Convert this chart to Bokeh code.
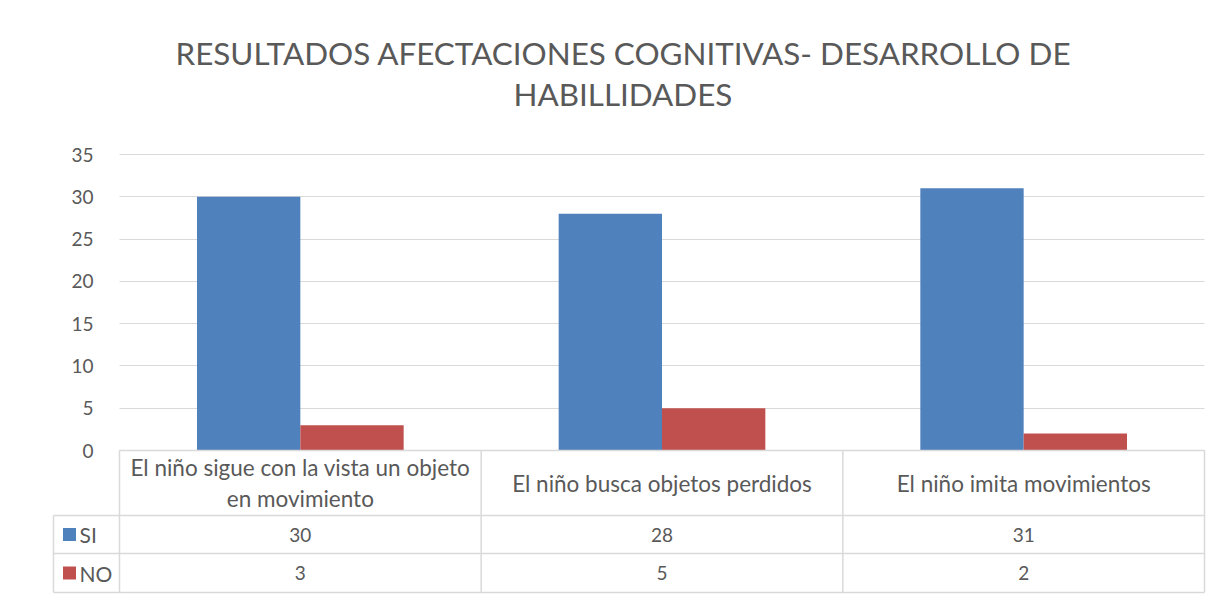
from bokeh.plotting import figure
from bokeh.models import Range1d, LinearAxis, FixedTicker, Grid, Title
from bokeh.core.properties import value
from bokeh.embed import file_html
from bokeh.resources import INLINE

# ---- data ----
categories = ["El niño sigue con la vista un objeto\nen movimiento",
              "El niño busca objetos perdidos",
              "El niño imita movimientos"]
series_names = ["SI", "NO"]
si_values = [30, 28, 31]
no_values = [3, 5, 2]
y_ticks = [0, 5, 10, 15, 20, 25, 30, 35]
title_lines = ["RESULTADOS AFECTACIONES COGNITIVAS- DESARROLLO DE", "HABILLIDADES"]

# ---- style ----
FONT = "Lato"
TXT = "#595959"
LINE = "#d9d9d9"
BLUE = "#4f81bd"
RED = "#c0504d"

# pixel geometry helpers (y: 35 units = 296 px ; x: 1 category = 361.67 px)
KY = 296.0 / 35.0
KX = 1085.0 / 3.0
n = len(categories)
r1 = -65.0 / KY     # bottom of category row
r2 = -103.0 / KY    # bottom of SI row
r3 = -142.0 / KY    # bottom of NO row
xl = -66.0 / KX     # left edge of series-name column

p = figure(width=1222, height=600,
           x_range=Range1d(-68.0 / KX, n + 2.0 / KX),
           y_range=Range1d(-144.0 / KY, 35 + 42.0 / KY),
           output_backend="svg", toolbar_location=None,
           x_axis_location=None, y_axis_location=None,
           min_border_left=51, min_border_right=16,
           min_border_top=112, min_border_bottom=6)
p.outline_line_color = None
p.xgrid.visible = False
p.ygrid.visible = False

# title: outer line (plot title) and inner line (extra Title, nearest the frame)
p.title.text = title_lines[0]
p.title.align = "left"
p.title.offset = 124
p.title.text_font = FONT
p.title.text_font_size = "31.4px"
p.title.text_font_style = "normal"
p.title.text_color = TXT
p.title.standoff = 2
p.add_layout(Title(text=title_lines[1], align="left", offset=462, text_font=FONT,
                   text_font_size="31.4px", text_font_style="normal",
                   text_color=TXT, standoff=0), "above")

grid = Grid(dimension=1, ticker=FixedTicker(ticks=y_ticks), bounds=(0, 35),
            cross_bounds=(0, n), grid_line_color=LINE, grid_line_width=1)
p.add_layout(grid)

yaxis = LinearAxis(ticker=FixedTicker(ticks=y_ticks), fixed_location=0,
                   axis_line_color=None, major_tick_line_color=None,
                   minor_tick_line_color=None, major_label_standoff=20,
                   major_label_text_font=FONT, major_label_text_font_size="19px",
                   major_label_text_color=TXT)
p.add_layout(yaxis, "left")

# bars (gap width 150%)
bw = 1.0 / 3.5
centers = [i + 0.5 for i in range(n)]
p.vbar(x=[c - bw / 2 for c in centers], top=si_values, bottom=0, width=bw,
       fill_color=BLUE, line_color=None)
p.vbar(x=[c + bw / 2 for c in centers], top=no_values, bottom=0, width=bw,
       fill_color=RED, line_color=None)

# data table lines
lw = 1.5
p.segment(x0=[0, xl, xl, xl], y0=[0, r1, r2, r3], x1=[n, n, n, n], y1=[0, r1, r2, r3],
          line_color=LINE, line_width=lw)
p.segment(x0=[i for i in range(n + 1)] + [xl], y0=[0] * (n + 1) + [r1],
          x1=[i for i in range(n + 1)] + [xl], y1=[r3] * (n + 2),
          line_color=LINE, line_width=lw)

# table text
p.text(x=centers, y=[r1 / 2] * n, text=categories, text_align="center",
       text_baseline="middle", text_font=value(FONT), text_font_size="22.5px",
       text_color=TXT, text_line_height=1.15)
p.text(x=centers, y=[(r1 + r2) / 2] * n, text=[str(v) for v in si_values],
       text_align="center", text_baseline="middle", text_font=value(FONT),
       text_font_size="19px", text_color=TXT)
p.text(x=centers, y=[(r2 + r3) / 2] * n, text=[str(v) for v in no_values],
       text_align="center", text_baseline="middle", text_font=value(FONT),
       text_font_size="19px", text_color=TXT)

# series names with legend keys
p.scatter(x=[-50.0 / KX] * 2, y=[(r1 + r2) / 2, (r2 + r3) / 2], marker="square",
          size=13, fill_color=[BLUE, RED], line_color=None)
p.text(x=[-40.0 / KX] * 2, y=[(r1 + r2) / 2, (r2 + r3) / 2], text=series_names,
       text_align="left", text_baseline="middle", text_font=value(FONT),
       text_font_size="21px", text_color=TXT)

open("out.html", "w").write(file_html(p, INLINE))
